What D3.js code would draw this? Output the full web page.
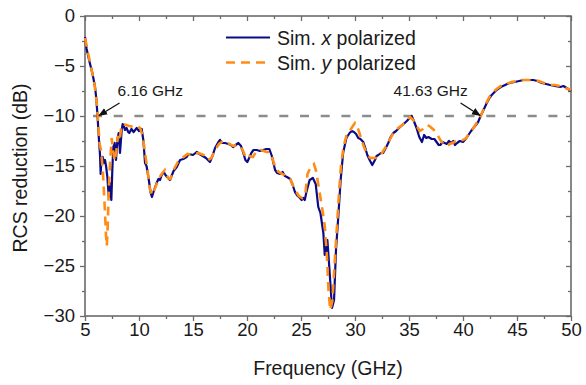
<!DOCTYPE html>
<html>
<head>
<meta charset="utf-8">
<script src="https://cdn.jsdelivr.net/npm/d3@7"></script>
<style>
  html, body { margin: 0; padding: 0; background: #fff; }
  svg { display: block; font-family: "Liberation Sans", Arial, sans-serif; }
</style>
</head>
<body>
<svg id="chart" width="586" height="385"></svg>
<script>
// ---- Data ----
const freqX = [5.0,5.15,5.4,5.7,5.93,6.05,6.16,6.3,6.39,6.45,6.52,6.63,6.76,6.85,6.95,7.07,7.2,7.3,7.44,7.53,7.62,7.75,7.87,8.0,8.12,8.24,8.4,8.49,8.6,8.7,8.85,9.0,9.1,9.3,9.5,9.79,10.0,10.25,10.4,10.56,10.7,10.87,11.08,11.2,11.4,11.63,11.8,11.95,12.1,12.3,12.45,12.6,12.87,13.2,13.5,13.8,14.1,14.4,14.6,15.0,15.34,15.6,15.9,16.2,16.57,16.8,17.04,17.3,17.5,17.7,17.96,18.27,18.5,18.7,18.95,19.2,19.45,19.66,19.85,20.03,20.2,20.4,20.6,20.9,21.2,21.5,21.8,22.07,22.3,22.6,22.8,23.06,23.3,23.5,23.7,24.0,24.2,24.44,24.7,24.9,25.06,25.2,25.35,25.5,25.8,26.1,26.36,26.6,26.8,27.07,27.2,27.3,27.44,27.62,27.87,28.06,28.24,28.45,28.67,28.9,29.2,29.5,29.7,29.9,30.1,30.3,30.5,30.77,30.95,31.14,31.4,31.6,31.85,32.0,32.16,32.4,32.6,32.85,33.08,33.3,33.55,33.8,34.17,34.5,34.8,35.05,35.25,35.45,35.7,35.95,36.2,36.4,36.6,36.8,37.1,37.35,37.55,37.75,37.9,38.1,38.3,38.5,38.7,38.9,39.1,39.26,39.45,39.7,40.0,40.25,40.5,40.75,40.96,41.2,41.4,41.63,41.9,42.2,42.45,42.66,43.1,43.5,43.9,44.3,44.8,45.2,45.6,46.0,46.5,46.9,47.3,47.7,48.06,48.5,49.0,49.3,49.6,50.0];
const rcsX = [-2.1,-3.3,-4.5,-5.8,-7.1,-8.3,-10.0,-12.5,-13.9,-15.8,-14.3,-14.1,-14.7,-14.4,-15.0,-16.1,-18.1,-16.7,-18.4,-15.4,-13.1,-12.7,-14.4,-12.4,-11.7,-13.7,-11.4,-10.8,-11.0,-11.4,-11.2,-11.6,-11.7,-11.3,-11.6,-11.2,-11.5,-11.3,-12.4,-14.7,-15.0,-16.1,-17.7,-18.1,-17.4,-16.7,-16.3,-16.4,-15.9,-15.6,-15.9,-16.1,-16.4,-15.5,-15.1,-14.4,-14.3,-14.1,-13.8,-13.9,-13.6,-13.8,-14.0,-14.2,-14.6,-14.0,-13.2,-12.7,-12.4,-12.7,-12.7,-12.8,-12.9,-13.1,-12.9,-12.7,-13.0,-13.7,-14.4,-14.6,-14.2,-13.7,-13.4,-13.4,-13.5,-13.4,-13.3,-13.3,-14.0,-15.4,-15.7,-15.8,-15.6,-16.0,-16.1,-16.3,-16.8,-17.6,-18.0,-18.2,-18.4,-18.2,-18.4,-17.6,-16.4,-16.2,-16.8,-19.1,-19.7,-21.7,-23.9,-23.5,-22.4,-25.1,-29.2,-28.4,-23.4,-20.1,-16.4,-13.7,-12.2,-11.7,-11.5,-11.6,-11.8,-12.2,-12.3,-12.6,-13.2,-13.9,-14.5,-14.9,-14.4,-14.0,-13.9,-13.7,-13.7,-13.2,-12.7,-12.1,-11.7,-11.5,-11.1,-10.8,-10.5,-10.2,-10.0,-10.5,-11.2,-12.1,-12.6,-11.9,-12.2,-12.1,-12.3,-12.3,-12.6,-12.9,-12.9,-12.6,-12.7,-12.8,-12.5,-12.7,-12.5,-12.9,-12.7,-12.5,-12.6,-12.3,-11.9,-11.5,-11.2,-10.9,-10.6,-10.0,-9.4,-8.7,-8.2,-7.9,-7.4,-7.1,-6.9,-6.7,-6.6,-6.5,-6.4,-6.4,-6.4,-6.5,-6.7,-6.8,-6.9,-7.0,-7.1,-7.0,-7.2,-7.5];

const freqY = [5.0,5.3,5.6,5.9,6.1,6.2,6.35,6.5,6.65,6.8,6.95,7.02,7.1,7.2,7.3,7.47,7.6,7.75,7.9,8.05,8.2,8.35,8.5,8.8,9.1,9.5,9.8,10.1,10.35,10.6,10.8,11.0,11.2,11.5,11.8,12.1,12.4,12.7,12.9,13.2,13.6,14.0,14.5,15.0,15.5,16.0,16.4,16.7,17.0,17.4,17.8,18.2,18.7,19.2,19.6,19.9,20.2,20.55,20.9,21.3,21.8,22.1,22.4,22.7,23.1,23.5,24.0,24.4,24.8,25.1,25.4,25.6,25.9,26.2,26.4,26.7,27.0,27.2,27.4,27.55,27.7,27.9,28.1,28.3,28.5,28.7,28.95,29.2,29.5,29.8,30.0,30.2,30.5,30.8,31.1,31.4,31.7,32.1,32.5,32.9,33.3,33.6,34.0,34.5,34.9,35.1,35.4,35.7,36.0,36.3,36.7,37.0,37.3,37.6,37.9,38.2,38.5,38.8,39.2,39.6,40.0,40.3,40.6,40.9,41.2,41.5,41.8,42.1,42.5,43.0,43.5,44.0,44.5,45.0,45.5,46.0,46.5,47.0,47.5,48.0,48.5,49.0,49.5,50.0];
const rcsY = [-2.2,-3.8,-5.3,-7.0,-8.8,-10.3,-12.8,-13.5,-15.5,-18.5,-22.0,-23.0,-21.0,-17.5,-15.0,-12.2,-13.5,-14.5,-13.5,-12.0,-12.5,-11.2,-10.8,-10.9,-11.0,-11.1,-11.0,-11.2,-12.0,-14.0,-15.5,-17.3,-17.9,-17.2,-16.3,-15.8,-15.4,-16.2,-16.3,-15.4,-14.6,-14.2,-13.8,-13.9,-13.7,-13.9,-14.4,-14.2,-13.5,-12.8,-12.5,-12.7,-13.0,-12.9,-13.4,-14.2,-14.0,-14.1,-13.5,-13.4,-13.6,-13.6,-14.4,-15.4,-15.7,-15.9,-16.3,-17.3,-18.0,-18.2,-17.8,-15.8,-15.1,-14.8,-15.5,-17.5,-19.5,-21.0,-24.0,-27.5,-29.4,-28.5,-25.0,-21.5,-18.0,-15.0,-13.0,-12.0,-11.5,-11.0,-10.7,-11.0,-12.0,-13.0,-13.8,-14.2,-14.2,-14.2,-13.7,-13.0,-12.2,-11.6,-11.2,-10.8,-10.3,-10.1,-10.4,-11.0,-11.5,-11.3,-10.9,-11.1,-11.4,-11.8,-12.4,-12.8,-13.0,-12.8,-12.6,-12.5,-12.4,-12.2,-11.7,-11.3,-10.8,-10.3,-9.6,-8.8,-8.0,-7.4,-7.0,-6.8,-6.6,-6.5,-6.4,-6.4,-6.4,-6.5,-6.7,-6.9,-6.9,-7.0,-7.2,-7.4];

const xMajorTicks = [5,10,15,20,25,30,35,40,45,50];
const xMinorTicks = [7.5,12.5,17.5,22.5,27.5,32.5,37.5,42.5,47.5];
const yMajorTicks = [0,-5,-10,-15,-20,-25,-30];
const yMinorTicks = [-2.5,-7.5,-12.5,-17.5,-22.5,-27.5];
const seriesNames = ["Sim. ", "x", " polarized", "y"];
const thresholdDb = -10;
const annotations = [
  {f: 6.16, label: "6.16 GHz"},
  {f: 41.63, label: "41.63 GHz"}
];

// ---- Layout ----
const svg = d3.select("#chart");
const W = 586, H = 385;
const m = {left: 85, right: 15, top: 16, bottom: 69};
const iw = W - m.left - m.right, ih = H - m.top - m.bottom;
const g = svg.append("g").attr("transform", `translate(${m.left},${m.top})`);

const x = d3.scaleLinear().domain([5, 50]).range([0, iw]);
const y = d3.scaleLinear().domain([-30, 0]).range([ih, 0]);

const axisColor = "#6b6b6b";
const fmt = d3.format("");

function styleAxis(sel, labels) {
  sel.select(".domain").remove();
  sel.selectAll(".tick line").attr("stroke", axisColor).attr("stroke-width", 1.3);
  sel.selectAll(".tick text")
    .attr("fill", "#1a1a1a")
    .style("font-size", labels ? "18.5px" : "0px")
    .style("font-family", "'Liberation Sans', Arial, sans-serif");
}

// Bottom
g.append("g").attr("transform", `translate(0,${ih})`)
  .call(d3.axisBottom(x).tickValues(xMajorTicks).tickSize(5).tickPadding(1.5).tickFormat(fmt))
  .call(s => styleAxis(s, true));
g.append("g").attr("transform", `translate(0,${ih})`)
  .call(d3.axisBottom(x).tickValues(xMinorTicks).tickSize(3).tickFormat(""))
  .call(s => styleAxis(s, false));
// Top (inward)
g.append("g")
  .call(d3.axisTop(x).tickValues(xMajorTicks).tickSize(-5).tickFormat(""))
  .call(s => styleAxis(s, false));
g.append("g")
  .call(d3.axisTop(x).tickValues(xMinorTicks).tickSize(-3).tickFormat(""))
  .call(s => styleAxis(s, false));
// Left
g.append("g")
  .call(d3.axisLeft(y).tickValues(yMajorTicks).tickSize(5).tickPadding(5).tickFormat(d3.format("")))
  .call(s => styleAxis(s, true));
g.append("g")
  .call(d3.axisLeft(y).tickValues(yMinorTicks).tickSize(3).tickFormat(""))
  .call(s => styleAxis(s, false));
// Right (inward)
g.append("g").attr("transform", `translate(${iw},0)`)
  .call(d3.axisRight(y).tickValues(yMajorTicks).tickSize(-5).tickFormat(""))
  .call(s => styleAxis(s, false));
g.append("g").attr("transform", `translate(${iw},0)`)
  .call(d3.axisRight(y).tickValues(yMinorTicks).tickSize(-3).tickFormat(""))
  .call(s => styleAxis(s, false));

// Frame
g.append("rect").attr("x", 0).attr("y", 0).attr("width", iw).attr("height", ih)
  .attr("fill", "none").attr("stroke", axisColor).attr("stroke-width", 1.6);

// Threshold line
g.append("line")
  .attr("x1", x(5)).attr("x2", x(50))
  .attr("y1", y(thresholdDb)).attr("y2", y(thresholdDb))
  .attr("stroke", "#8c8c8c").attr("stroke-width", 2.5)
  .attr("stroke-dasharray", "9,11.7").attr("stroke-dashoffset", -8);

// Lines
const line = d3.line().x(d => x(d[0])).y(d => y(d[1])).curve(d3.curveLinear);
const dataX = freqX.map((f, i) => [f, rcsX[i]]);
const dataY = freqY.map((f, i) => [f, rcsY[i]]);

g.append("path").datum(dataX).attr("d", line)
  .attr("fill", "none").attr("stroke", "#0b0b87").attr("stroke-width", 2.2)
  .attr("stroke-linejoin", "round");
g.append("path").datum(dataY).attr("d", line)
  .attr("fill", "none").attr("stroke", "#ff8c14").attr("stroke-width", 2.6)
  .attr("stroke-dasharray", "9,6");

// Annotations with arrows
const defs = svg.append("defs");
defs.append("marker").attr("id", "arrow")
  .attr("viewBox", "0 0 10 10").attr("refX", 9).attr("refY", 5)
  .attr("markerWidth", 9).attr("markerHeight", 9).attr("orient", "auto")
  .attr("markerUnits", "userSpaceOnUse")
  .append("path").attr("d", "M0,1 L10,5 L0,9 Z").attr("fill", "#111");

const annOffsets = [
  {lx: 22, ly: -13, anchor: "start", textDx: 20},
  {lx: -20, ly: -13, anchor: "middle", textDx: -50}
];
annotations.forEach((a, i) => {
  const px = x(a.f), py = y(thresholdDb);
  const o = annOffsets[i];
  g.append("line")
    .attr("x1", px + o.lx).attr("y1", py + o.ly)
    .attr("x2", px + (o.lx > 0 ? 1.5 : -0.5)).attr("y2", py - 0.5)
    .attr("stroke", "#111").attr("stroke-width", 1.3)
    .attr("marker-end", "url(#arrow)");
  g.append("text")
    .attr("x", px + o.textDx).attr("y", py - 20.5)
    .attr("text-anchor", o.anchor)
    .attr("font-size", "15.5px").attr("fill", "#1a1a1a")
    .text(a.label);
});

// Legend
const lg = g.append("g").attr("transform", `translate(${226 - m.left},${37.5 - m.top})`);
lg.append("line").attr("x1", 0).attr("x2", 44).attr("y1", 0).attr("y2", 0)
  .attr("stroke", "#0b0b87").attr("stroke-width", 2.2);
lg.append("line").attr("x1", 0).attr("x2", 44).attr("y1", 25).attr("y2", 25)
  .attr("stroke", "#ff8c14").attr("stroke-width", 2.6).attr("stroke-dasharray", "9,6");
[[0, seriesNames[1]], [25, seriesNames[3]]].forEach(([dy, v]) => {
  const t = lg.append("text").attr("x", 51).attr("y", dy + 7.5)
    .attr("font-size", "19.5px").attr("fill", "#1a1a1a");
  t.append("tspan").text(seriesNames[0]);
  t.append("tspan").attr("font-style", "italic").text(v);
  t.append("tspan").text(seriesNames[2]);
});

// Axis titles
svg.append("text")
  .attr("x", m.left + iw / 2 + 0).attr("y", 375)
  .attr("text-anchor", "middle").attr("font-size", "19.5px").attr("fill", "#1a1a1a")
  .text("Frequency (GHz)");
svg.append("text")
  .attr("transform", `translate(27,${m.top + ih / 2 + 2}) rotate(-90)`)
  .attr("text-anchor", "middle").attr("font-size", "19.5px").attr("fill", "#1a1a1a")
  .text("RCS reduction (dB)");
</script>
</body>
</html>
